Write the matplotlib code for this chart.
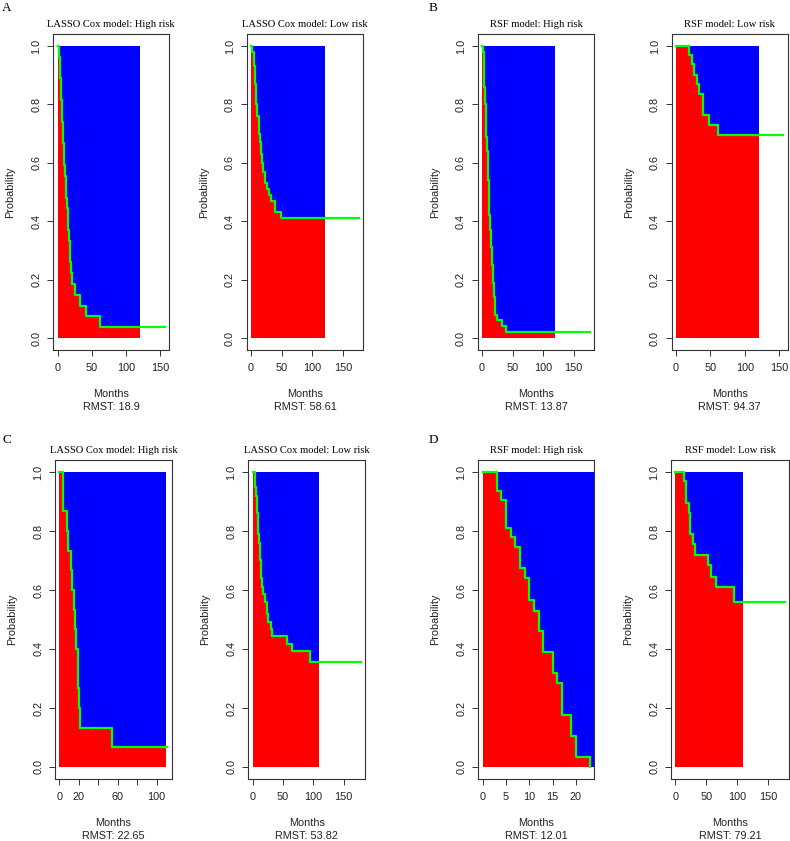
import matplotlib
matplotlib.use('Agg')
import matplotlib.pyplot as plt

# survival curves (time in months, survival probability)
a_hi_t = [0, 2, 3.4, 4, 4.8, 5.3, 6, 6.5, 7.5, 8.5, 9.3, 10, 11, 12, 12.5, 13.5,
          14.5, 15, 16.5, 17.5, 18, 20, 21.5, 25, 32.5, 41, 62, 157]
a_hi_s = [1.0, 0.963, 0.926, 0.889, 0.852, 0.815, 0.778, 0.741, 0.704, 0.667, 0.630,
          0.593, 0.556, 0.519, 0.481, 0.444, 0.407, 0.370, 0.333, 0.296, 0.259,
          0.222, 0.185, 0.148, 0.111, 0.074, 0.037, 0.037]

a_lo_t = [0, 1.6, 4.4, 6.5, 8.2, 9.8, 12.5, 13.5, 14.7, 16, 17.5, 19.6, 23, 26,
          29.5, 32.7, 38.7, 49, 176]
a_lo_s = [1.0, 0.98, 0.93, 0.87, 0.80, 0.76, 0.74, 0.70, 0.67, 0.63, 0.60, 0.57,
          0.53, 0.51, 0.49, 0.47, 0.43, 0.41, 0.41]

b_hi_t = [0, 1.5, 3, 4, 5, 6, 7, 8, 9, 10, 11, 12, 13.5, 14.5, 16, 17.5, 19, 20.5,
          22, 25, 33, 40, 177]
b_hi_s = [1.0, 0.98, 0.93, 0.86, 0.80, 0.74, 0.69, 0.64, 0.59, 0.54, 0.45, 0.42,
          0.37, 0.31, 0.25, 0.19, 0.14, 0.10, 0.08, 0.06, 0.04, 0.02, 0.02]

b_lo_t = [0, 18.7, 23.6, 26.4, 29.8, 33.7, 38.9, 47.6, 61, 156]
b_lo_s = [1.0, 0.97, 0.94, 0.90, 0.87, 0.835, 0.765, 0.73, 0.695, 0.695]

c_hi_t = [0, 3.4, 7.6, 8.6, 12, 13, 15, 16.5, 17.6, 19, 19.5, 20.2, 21, 54, 111]
c_hi_s = [1.0, 0.867, 0.80, 0.733, 0.667, 0.60, 0.533, 0.467, 0.40, 0.333, 0.267,
          0.20, 0.133, 0.067, 0.067]

c_lo_t = [0, 3.5, 4.5, 5.5, 6.5, 7.5, 8.5, 9.5, 10.5, 11.5, 12.5, 13.5, 14.5, 15.5,
          17.5, 21, 24, 25, 30, 32.6, 56.4, 65.6, 94.7, 178]
c_lo_s = [1.0, 0.98, 0.95, 0.92, 0.89, 0.86, 0.83, 0.79, 0.76, 0.73, 0.70, 0.67,
          0.64, 0.61, 0.585, 0.56, 0.52, 0.49, 0.469, 0.445, 0.417, 0.393, 0.357, 0.357]

d_hi_t = [0, 3, 4, 5, 6, 7, 8, 9, 10, 11, 12, 13, 15, 16, 17, 19, 20, 23]
d_hi_s = [1.0, 0.937, 0.905, 0.81, 0.78, 0.745, 0.675, 0.64, 0.565, 0.53, 0.46,
          0.39, 0.32, 0.285, 0.175, 0.105, 0.035, 0.0]

d_lo_t = [0, 14.2, 16.4, 18, 21.3, 23.5, 28.5, 32.3, 53.6, 57.5, 66, 94.7, 177]
d_lo_s = [1.0, 0.968, 0.93, 0.895, 0.86, 0.79, 0.755, 0.72, 0.685, 0.645, 0.61,
          0.56, 0.56]

taus = [120, 120, 120, 120, 110, 110, 23.9, 110]
rmst = ['18.9', '58.61', '13.87', '94.37', '22.65', '53.82', '12.01', '79.21']
titles = ['LASSO Cox model: High risk', 'LASSO Cox model: Low risk',
          'RSF model: High risk', 'RSF model: Low risk'] * 2
panel_letters = ['A', 'B', 'C', 'D']

W, H = 790, 841
fig = plt.figure(figsize=(W / 100, H / 100), dpi=100)

def px(x, y):
    return x / W, 1 - y / H

# axes boxes in pixels: left, top, right, bottom
boxes = [(53.3, 34.3, 169.3, 349.7), (246.7, 34.3, 363.3, 349.7),
         (477.7, 34.3, 594.3, 349.7), (671.7, 34.3, 787.6, 349.7),
         (55.0, 460.2, 171.7, 778.8), (248.3, 460.2, 365.0, 778.8),
         (478.3, 460.2, 594.3, 778.8), (671.0, 460.2, 789.0, 778.8)]
xlims = [(-6.3, 163.5), (-7.0, 183.0), (-7.1, 184.0), (-6.2, 162.0),
         (-4.4, 115.4), (-7.1, 185.0), (-0.92, 23.92), (-7.1, 184.0)]
xticks = [[0, 50, 100, 150]] * 4 + [[0, 20, 40, 60, 80, 100], [0, 50, 100, 150],
                                    [0, 5, 10, 15, 20], [0, 50, 100, 150]]
curves = [(a_hi_t, a_hi_s), (a_lo_t, a_lo_s), (b_hi_t, b_hi_s), (b_lo_t, b_lo_s),
          (c_hi_t, c_hi_s), (c_lo_t, c_lo_s), (d_hi_t, d_hi_s), (d_lo_t, d_lo_s)]

sans = 'Liberation Sans'
serif = 'Liberation Serif'
fs = 7.8

for i, ((t, s), (l, tp, r, b)) in enumerate(zip(curves, boxes)):
    ax = fig.add_axes([l / W, 1 - b / H, (r - l) / W, (b - tp) / H])
    tau = taus[i]
    tf = [x for x in t if x < tau] + [tau]
    sf = [s[k] for k, x in enumerate(t) if x < tau]
    sf.append(sf[-1])
    ax.fill_between(tf, sf, 1, step='post', color='#0000ff', lw=0)
    ax.fill_between(tf, 0, sf, step='post', color='#ff0000', lw=0)
    ax.step(t, s, where='post', color='#00ff00', lw=1.6)

    ax.set_xlim(*xlims[i])
    ax.set_ylim(-0.04, 1.04)
    ax.set_xticks(xticks[i])
    if i == 4:
        ax.set_xticklabels(['0', '20', '', '60', '', '100'])
    ax.set_yticks([0, 0.2, 0.4, 0.6, 0.8, 1.0])
    ax.set_yticklabels(['0.0', '0.2', '0.4', '0.6', '0.8', '1.0'])
    ax.tick_params(length=4.5, width=0.7, color='#333333', labelsize=fs,
                   labelcolor='#222222')
    ax.tick_params(axis='x', pad=5)
    ax.tick_params(axis='y', pad=4)
    for lab in ax.get_xticklabels() + ax.get_yticklabels():
        lab.set_fontfamily(sans)
    plt.setp(ax.get_yticklabels(), rotation=90, va='center')
    for sp in ax.spines.values():
        sp.set_color('#333333')
        sp.set_linewidth(0.8)

    cx = (l + r) / 2
    fig.text(*px(cx, tp - 10), titles[i], ha='center', va='center',
             family=serif, fontsize=7.6)
    fig.text(*px(l - 43, (tp + b) / 2), 'Probability', ha='center', va='center',
             rotation=90, family=sans, fontsize=fs, color='#222222')
    fig.text(*px(cx, b + 44), 'Months', ha='center', va='center',
             family=sans, fontsize=fs, color='#222222')
    fig.text(*px(cx, b + 57), 'RMST: ' + rmst[i], ha='center', va='center',
             family=sans, fontsize=fs, color='#222222')

for letter, (x, y) in zip(panel_letters, [(7, 8), (433, 8), (7, 440), (433, 440)]):
    fig.text(*px(x, y), letter, ha='center', va='center', family=serif, fontsize=9.5)

fig.savefig('out.png', dpi=100)
